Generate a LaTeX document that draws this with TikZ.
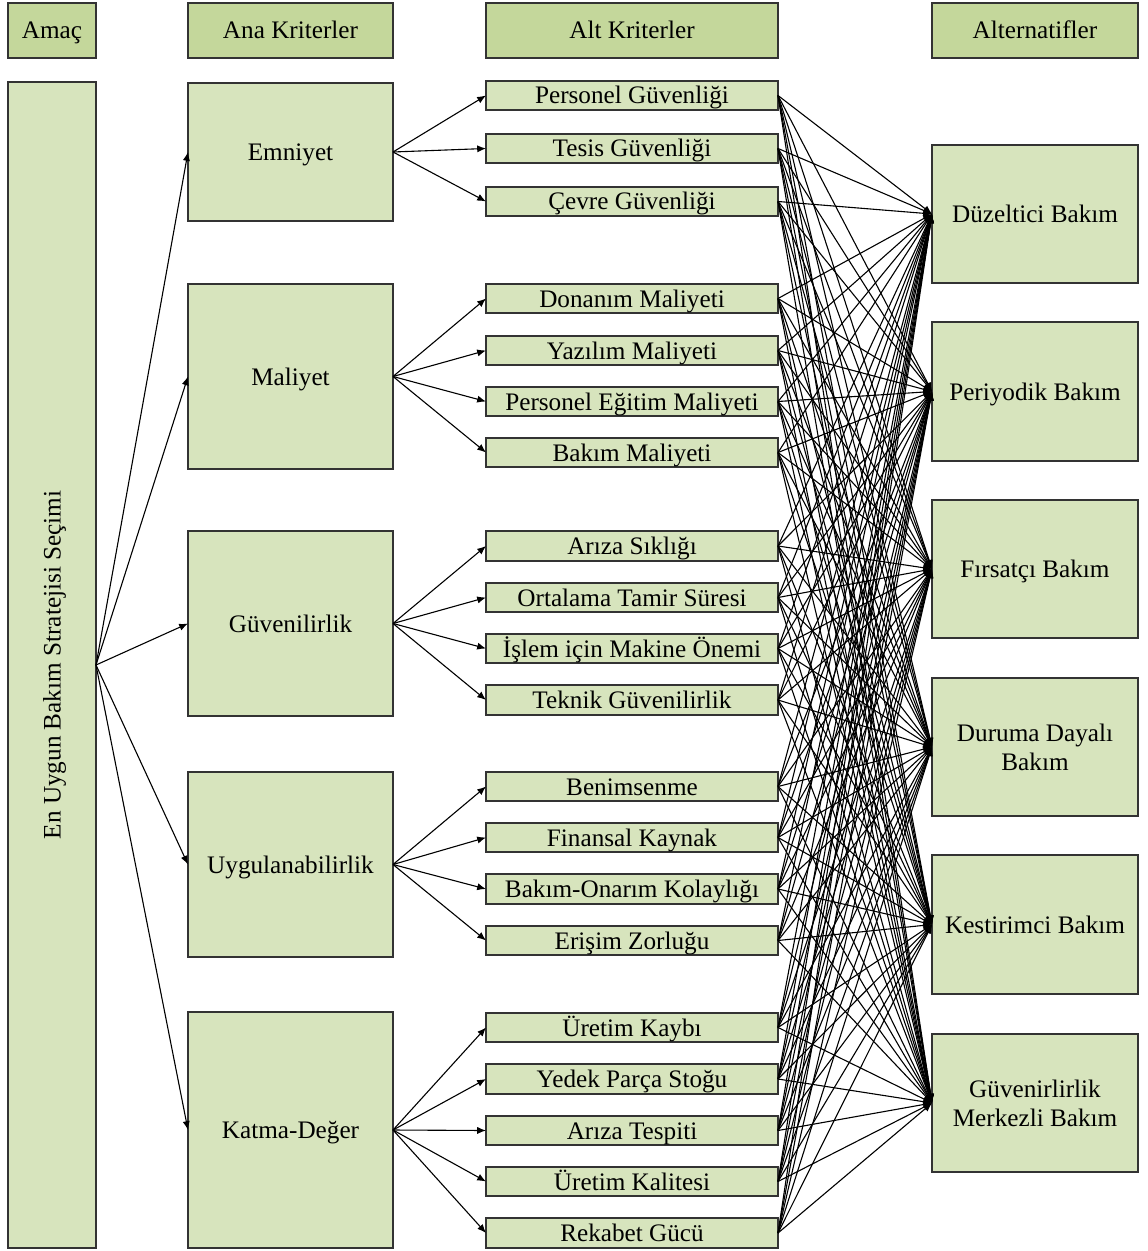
\documentclass[tikz,border=0pt]{standalone}
\usepackage{fontspec}
\setmainfont{Liberation Serif}
\usetikzlibrary{arrows.meta}

\definecolor{boxfill}{HTML}{D7E4BD}
\definecolor{headfill}{HTML}{C4D79B}
\definecolor{boxline}{HTML}{333333}

% box from its pixel corners: style, name, x1, y1, x2, y2, text
\newcommand\mkbox[7]{%
  \node[#1, minimum width={(#5-#3)*0.5pt}, minimum height={(#6-#4)*0.5pt}]
    (#2) at ({(#3+#5)/2},{(#4+#6)/2}) {#7};}

\tikzset{
  basebox/.style={draw=boxline, line width=0.6pt, inner sep=0pt, outer sep=0pt,
    align=center, font=\fontsize{12.6}{14.5}\selectfont},
  oneline/.style={text height=8.5pt, text depth=0pt},
  headbox/.style={basebox, oneline, fill=headfill},
  critbox/.style={basebox, oneline, fill=boxfill},
  twobox/.style={basebox, fill=boxfill},
  link/.style={line width=0.55pt, -{Latex[length=4.4pt,width=3.6pt]}},
}

\begin{document}
\begin{tikzpicture}[x=0.5pt,y=-0.5pt]
\useasboundingbox (0,0) rectangle (1147,1251);

% column headings
\mkbox{headbox}{hAmac}{8}{3}{96}{58}{Amaç}
\mkbox{headbox}{hAna}{188}{3}{393}{58}{Ana Kriterler}
\mkbox{headbox}{hAlt}{486}{3}{778}{58}{Alt Kriterler}
\mkbox{headbox}{hAlter}{932}{3}{1138}{58}{Alternatifler}

% goal
\node[critbox, rotate=90, minimum width={(1248-82)*0.5pt}, minimum height={(96-8)*0.5pt}]
  (goal) at ({(8+96)/2},{(82+1248)/2}) {En Uygun Bakım Stratejisi Seçimi};

% main criteria
\mkbox{critbox}{m1}{188}{83}{393}{221}{Emniyet}
\mkbox{critbox}{m2}{188}{284}{393}{469}{Maliyet}
\mkbox{critbox}{m3}{188}{531}{393}{716}{Güvenilirlik}
\mkbox{critbox}{m4}{188}{772}{393}{957}{Uygulanabilirlik}
\mkbox{critbox}{m5}{188}{1012}{393}{1248}{Katma-Değer}

% sub-criteria
\mkbox{critbox}{s1}{486}{81}{778}{110}{Personel Güvenliği}
\mkbox{critbox}{s2}{486}{134}{778}{163}{Tesis Güvenliği}
\mkbox{critbox}{s3}{486}{187}{778}{216}{Çevre Güvenliği}
\mkbox{critbox}{s4}{486}{284}{778}{313}{Donanım Maliyeti}
\mkbox{critbox}{s5}{486}{336}{778}{365}{Yazılım Maliyeti}
\mkbox{critbox}{s6}{486}{387}{778}{416}{Personel Eğitim Maliyeti}
\mkbox{critbox}{s7}{486}{438}{778}{467}{Bakım Maliyeti}
\mkbox{critbox}{s8}{486}{531}{778}{561}{Arıza Sıklığı}
\mkbox{critbox}{s9}{486}{583}{778}{612}{Ortalama Tamir Süresi}
\mkbox{critbox}{s10}{486}{634}{778}{663}{İşlem için Makine Önemi}
\mkbox{critbox}{s11}{486}{685}{778}{715}{Teknik Güvenilirlik}
\mkbox{critbox}{s12}{486}{772}{778}{801}{Benimsenme}
\mkbox{critbox}{s13}{486}{823}{778}{852}{Finansal Kaynak}
\mkbox{critbox}{s14}{486}{874}{778}{904}{Bakım-Onarım Kolaylığı}
\mkbox{critbox}{s15}{486}{926}{778}{955}{Erişim Zorluğu}
\mkbox{critbox}{s16}{486}{1013}{778}{1042}{Üretim Kaybı}
\mkbox{critbox}{s17}{486}{1064}{778}{1094}{Yedek Parça Stoğu}
\mkbox{critbox}{s18}{486}{1116}{778}{1145}{Arıza Tespiti}
\mkbox{critbox}{s19}{486}{1167}{778}{1196}{Üretim Kalitesi}
\mkbox{critbox}{s20}{486}{1218}{778}{1248}{Rekabet Gücü}

% alternatives
\mkbox{critbox}{a1}{932}{145}{1138}{283}{Düzeltici Bakım}
\mkbox{critbox}{a2}{932}{322}{1138}{461}{Periyodik Bakım}
\mkbox{critbox}{a3}{932}{500}{1138}{638}{Fırsatçı Bakım}
\mkbox{twobox}{a4}{932}{678}{1138}{816}{Duruma Dayalı\\Bakım}
\mkbox{critbox}{a5}{932}{855}{1138}{994}{Kestirimci Bakım}
\mkbox{twobox}{a6}{932}{1034}{1138}{1172}{Güvenirlirlik\\Merkezli Bakım}

% goal to main criteria
\foreach \m in {m1,m2,m3,m4,m5}
  \draw[link] (goal.south) -- (\m.west);

% main criteria to their sub-criteria
\foreach \s in {s1,s2,s3} \draw[link] (m1.east) -- (\s.west);
\foreach \s in {s4,s5,s6,s7} \draw[link] (m2.east) -- (\s.west);
\foreach \s in {s8,s9,s10,s11} \draw[link] (m3.east) -- (\s.west);
\foreach \s in {s12,s13,s14,s15} \draw[link] (m4.east) -- (\s.west);
\foreach \s in {s16,s17,s18,s19,s20} \draw[link] (m5.east) -- (\s.west);

% every sub-criterion to every alternative
\foreach \s in {1,...,20}
  \foreach \a in {1,...,6}
    \draw[link] (s\s.east) -- (a\a.west);
\end{tikzpicture}
\end{document}
